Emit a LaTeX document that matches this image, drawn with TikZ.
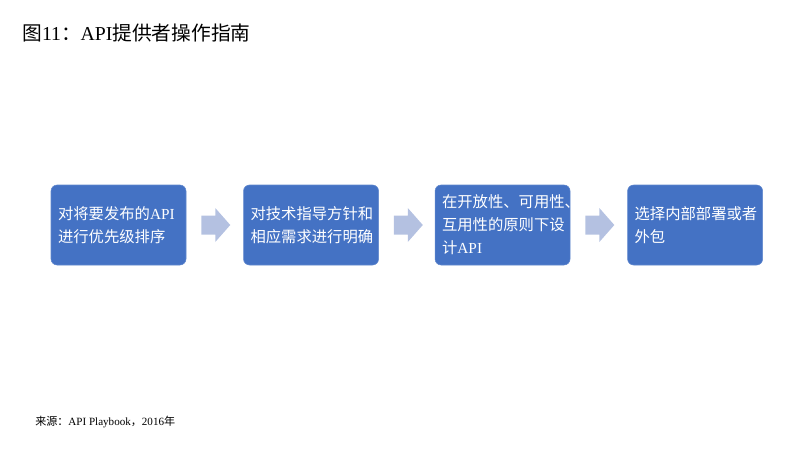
\documentclass[tikz,border=0pt]{standalone}
\usepackage{fontspec}
\setmainfont{Liberation Serif}
\newfontfamily\cjk{Noto Sans CJK SC}
\usetikzlibrary{positioning,calc}
\definecolor{boxblue}{HTML}{4472C4}
\definecolor{arrowblue}{HTML}{B4C1E1}
\tikzset{
  stepbox/.style={fill=boxblue, draw=boxblue!85!white, rounded corners=4.5pt,
    minimum width=101.25pt, minimum height=60pt, inner xsep=5.25pt,
    text width=90.75pt, align=left, text=white,
    font=\fontsize{11.5pt}{17.25pt}\selectfont},
  flowarrow/.style={fill=arrowblue}
}
\begin{document}
\begin{tikzpicture}[x=0.75pt,y=-0.75pt]
  \useasboundingbox (0,0) rectangle (800,450);
  \node[anchor=west,inner sep=0pt,font=\fontsize{14.8pt}{16pt}\selectfont] (title) at (22,33)
    {{\cjk 图}11{\cjk ：}API{\cjk 提供者操作指南}};
  \node[stepbox] (b1) at (118.5,225) {{\cjk 对将要发布的}API\\{\cjk 进行优先级排序}};
  \node[stepbox,right=42.75pt of b1] (b2) {{\cjk 对技术指导方针和}\\{\cjk 相应需求进行明确}};
  \node[stepbox,right=42pt of b2] (b3) {{\cjk 在开放性、可用性、}\\{\cjk 互用性的原则下设}\\{\cjk 计}API};
  \node[stepbox,right=42.75pt of b3] (b4) {{\cjk 选择内部部署或者}\\{\cjk 外包}};
  \foreach \a in {b1,b2,b3}
    \fill[flowarrow] ($(\a.east)+(15,-9.5)$) -- ++(14,0) -- ++(0,-7.5) -- ++(15,17)
      -- ++(-15,17) -- ++(0,-7.5) -- ++(-14,0) -- cycle;
  \node[anchor=west,inner sep=0pt,font=\fontsize{8.3pt}{10pt}\selectfont] (source) at (35,422)
    {{\cjk 来源：}API Playbook{\cjk ，}2016{\cjk 年}};
\end{tikzpicture}
\end{document}
